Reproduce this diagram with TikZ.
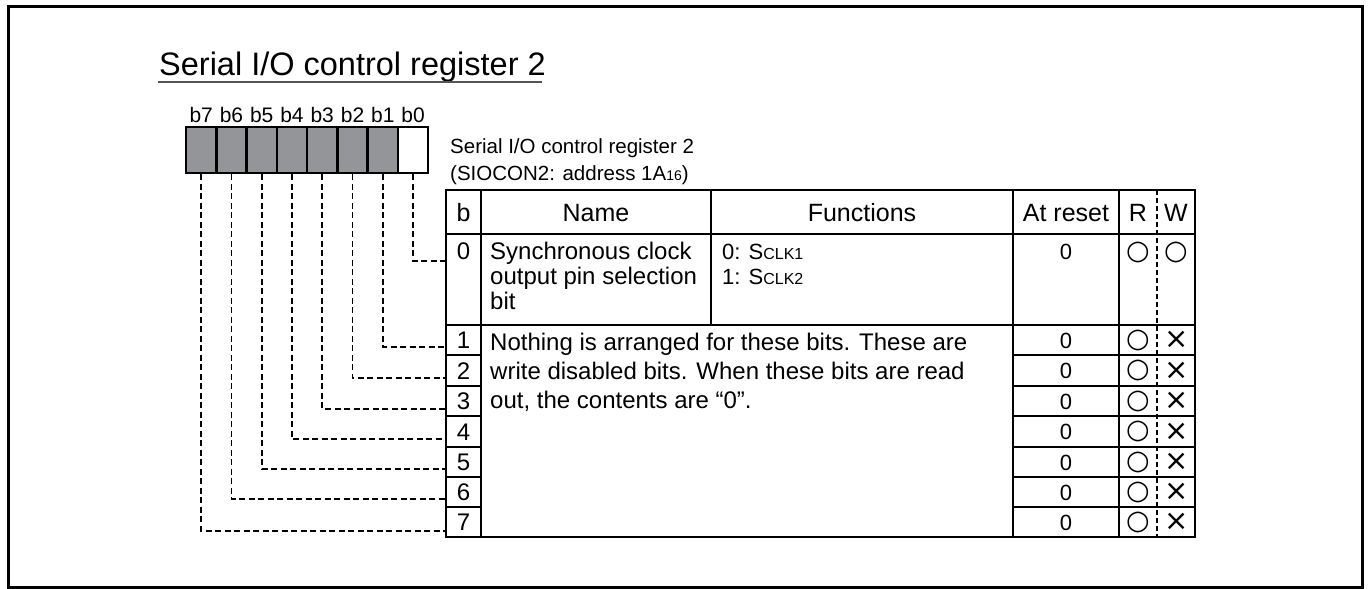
\documentclass[tikz,border=0pt]{standalone}
\usepackage{fontspec}
\setmainfont{Liberation Sans}
\newfontfamily\symfont{DejaVu Sans}
\usetikzlibrary{positioning}
\definecolor{BitGray}{HTML}{939598}
\definecolor{RuleGray}{HTML}{555555}
\newcommand{\fsize}[1]{\fontsize{#1}{#1}\selectfont}

\begin{document}
\begin{tikzpicture}[x=1pt,y=-1pt,
    bitbox/.style={draw,line width=2.6pt,minimum width=30.25pt,minimum height=46pt,inner sep=0pt},
    txt/.style={inner sep=0pt,font=\fsize{24}},
    rule/.style={line width=2.3pt},
    conn/.style={line width=1.6pt,dash pattern=on 6pt off 3.5pt},
    rwmark/.style={inner sep=0pt,font=\symfont\fsize{27}}]
    \useasboundingbox (0,0) rectangle (1369,589);
    \draw[line width=3pt] (8.5,6) rectangle (1362,587);
    % title
    \node[txt,anchor=base west,font=\fsize{32.5}] (title) at (159,75) {Serial I/O control register 2};
    \draw[line width=1.4pt,RuleGray] (158,82) -- (542,82);
    % register bits
    \foreach \i/\c in {0/white,1/BitGray,2/BitGray,3/BitGray,4/BitGray,5/BitGray,6/BitGray,7/BitGray} {
      \node[bitbox,fill=\c] (bit\i) at (413-30.25*\i,150) {};
      \node[txt,above=2.7pt of bit\i,font=\fsize{21}] (lbl\i) {b\i};
    }
    \node[txt,anchor=base west,font=\fsize{20.5}] (reg1) at (450,153) {Serial I/O control register 2};
    \node[txt,anchor=base west,font=\fsize{20.5}] (reg2) at (450,180) {(SIOCON2: address 1A{\fsize{14}16})};
    % table
    \draw[rule] (446,190) rectangle (1195,537);
    \draw[rule] (446,234) -- (1195,234) (446,325) -- (1195,325);
    \draw[rule] (481,190) -- (481,537) (711,190) -- (711,325)
      (1013,190) -- (1013,537) (1119,190) -- (1119,537);
    \draw[line width=1.3pt,dash pattern=on 5pt off 3pt] (1157,190) -- (1157,537);
    \foreach \y in {355,386,416,447,477,507} {
      \draw[rule] (446,\y) -- (481,\y) (1013,\y) -- (1195,\y);
    }
    % header
    \node[txt,anchor=base,font=\fsize{25}] (hb) at (463.5,221) {b};
    \node[txt,anchor=base,font=\fsize{25}] (hname) at (596,221) {Name};
    \node[txt,anchor=base,font=\fsize{25}] (hfun) at (862,221) {Functions};
    \node[txt,anchor=base,font=\fsize{25}] (hrst) at (1066,221) {At reset};
    \node[txt,anchor=base,font=\fsize{25}] (hr) at (1138,221) {R};
    \node[txt,anchor=base,font=\fsize{25}] (hw) at (1176,221) {W};
    % bit 0
    \node[txt,anchor=base] (num0) at (463.5,259) {0};
    \node[txt,anchor=base west] (nm1) at (490,259) {Synchronous clock};
    \node[txt,anchor=base west] (nm2) at (490,284) {output pin selection};
    \node[txt,anchor=base west] (nm3) at (490,309) {bit};
    \node[txt,anchor=base west,font=\fsize{22}] (fn1) at (722,259) {0: S{\fsize{16}CLK1}};
    \node[txt,anchor=base west,font=\fsize{22}] (fn2) at (722,284) {1: S{\fsize{16}CLK2}};
    \node[txt,anchor=base,font=\fsize{22}] (rst0) at (1066,259) {0};
    \node[rwmark] (rd0) at (1138,252) {○};
    \node[rwmark] (wr0) at (1176,252) {○};
    % bits 1 to 7
    \node[txt,anchor=base west] (tx1) at (490,350) {Nothing is arranged for these bits. These are};
    \node[txt,anchor=base west] (tx2) at (490,379) {write disabled bits. When these bits are read};
    \node[txt,anchor=base west] (tx3) at (490,408) {out, the contents are “0”.};
    \foreach \i/\c in {1/340,2/370.5,3/401,4/431.5,5/462,6/492,7/522} {
      \node[txt,anchor=base] (num\i) at (463.5,\c+8.5) {\i};
      \node[txt,anchor=base,font=\fsize{22}] (rst\i) at (1066,\c+8) {0};
      \node[rwmark] (rd\i) at (1138,\c) {○};
      \node[rwmark,font=\symfont\fsize{29}] (wr\i) at (1177,\c) {×};
    }
    % connectors
    \foreach \i/\y in {0/261,1/347,2/378,3/409,4/439,5/469,6/499,7/531} {
      \coordinate (con\i) at (446,\y);
      \draw[conn] (bit\i.south) |- (con\i);
    }
  \end{tikzpicture}
\end{document}
